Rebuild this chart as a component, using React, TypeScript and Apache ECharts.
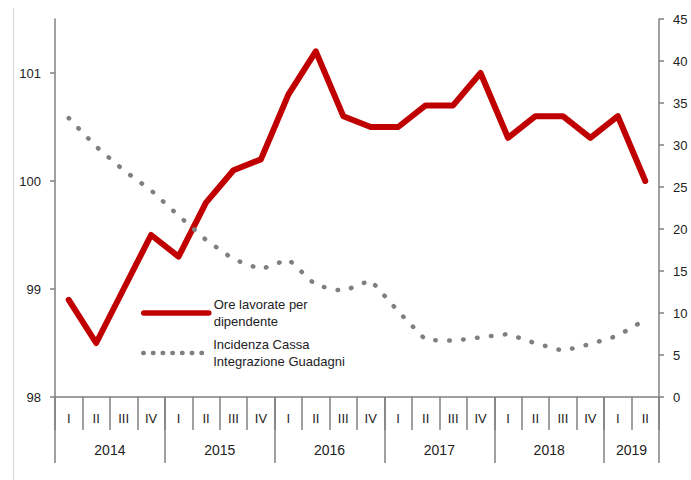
import { useEffect, useRef } from "react";
import * as echarts from "echarts";

const quarters = ["I", "II", "III", "IV", "I", "II", "III", "IV", "I", "II", "III", "IV", "I", "II", "III", "IV", "I", "II", "III", "IV", "I", "II"];
const years = ["2014", "2015", "2016", "2017", "2018", "2019"];
const quartersPerYear = [4, 4, 4, 4, 4, 2];
const oreLavorate = [98.9, 98.5, 99.0, 99.5, 99.3, 99.8, 100.1, 100.2, 100.8, 101.2, 100.6, 100.5, 100.5, 100.7, 100.7, 101.0, 100.4, 100.6, 100.6, 100.4, 100.6, 100.0];
const cassaIntegrazione = [33.2, 29.8, 27.0, 24.6, 21.6, 18.7, 16.4, 15.2, 16.4, 13.3, 12.6, 13.9, 10.2, 6.8, 6.7, 7.1, 7.5, 6.4, 5.5, 6.3, 7.3, 9.2];
const leftTicks = [98, 99, 100, 101];
const seriesNames = ["Ore lavorate per dipendente", "Incidenza Cassa Integrazione Guadagni"];
const legendLabels = ["Ore lavorate per\ndipendente", "Incidenza Cassa\nIntegrazione Guadagni"];

const FONT = "'Liberation Sans', Arial, sans-serif";
const AXIS = "#808080";
const TXT = "#222222";

export default function App() {
  const ref = useRef<HTMLDivElement>(null);
  useEffect(() => {
    if (!ref.current) return;
    const chart = echarts.init(ref.current, undefined, { renderer: "svg" });

    const boundaries: number[] = [0];
    quartersPerYear.forEach((n) => boundaries.push(boundaries[boundaries.length - 1] + n));
    const total = boundaries[boundaries.length - 1];
    const yearSlots: string[] = Array(total + 1).fill("");
    years.forEach((y, i) => {
      yearSlots[(boundaries[i] + boundaries[i + 1]) / 2] = y;
    });

    const legendFormatter = (name: string) => legendLabels[seriesNames.indexOf(name)];
    const legendText = {
      fontFamily: FONT,
      fontSize: 13,
      color: TXT,
      lineHeight: 17,
      padding: [17, 0, 0, 0],
    };
    const hiddenSymbol = { color: "rgba(0,0,0,0)", borderWidth: 0, opacity: 0 };

    chart.setOption({
      animation: false,
      backgroundColor: "#ffffff",
      textStyle: { fontFamily: FONT },
      grid: { left: 55, right: 32, top: 19, bottom: 83, containLabel: false },
      legend: [
        {
          data: [seriesNames[0]],
          left: 141,
          top: 287.5,
          padding: 0,
          itemWidth: 65,
          itemHeight: 14,
          selectedMode: false,
          formatter: legendFormatter,
          textStyle: legendText,
          itemStyle: hiddenSymbol,
          lineStyle: { width: 5.5, cap: "round" },
        },
        {
          data: [seriesNames[1]],
          left: 141,
          top: 327.5,
          padding: 0,
          itemWidth: 65,
          itemHeight: 14,
          selectedMode: false,
          formatter: legendFormatter,
          textStyle: legendText,
          itemStyle: hiddenSymbol,
          lineStyle: { width: 4.5, type: [0.5, 9.2], cap: "round" },
        },
      ],
      xAxis: [
        {
          type: "category",
          position: "bottom",
          data: quarters,
          boundaryGap: true,
          axisLine: { lineStyle: { color: AXIS, width: 1.5 } },
          axisTick: { show: true, interval: 0, length: 33, lineStyle: { color: AXIS, width: 1.5 } },
          axisLabel: { interval: 0, margin: 15, fontSize: 13, color: TXT, fontFamily: FONT },
          splitLine: { show: false },
        },
        {
          type: "category",
          position: "bottom",
          data: yearSlots,
          boundaryGap: false,
          axisLine: { show: false },
          axisTick: {
            show: true,
            interval: (index: number) => boundaries.includes(index),
            length: 66,
            lineStyle: { color: AXIS, width: 1.5 },
          },
          axisLabel: { interval: 0, margin: 46, fontSize: 14, color: TXT, fontFamily: FONT },
          splitLine: { show: false },
        },
      ],
      yAxis: [
        {
          type: "value",
          position: "left",
          min: 98,
          max: 101.5,
          interval: 1,
          axisLine: { show: true, lineStyle: { color: AXIS, width: 1.5 } },
          axisTick: { show: true, length: 5, customValues: leftTicks, lineStyle: { color: AXIS, width: 1.5 } },
          axisLabel: { margin: 14, fontSize: 13, color: TXT, fontFamily: FONT, customValues: leftTicks },
          splitLine: { show: false },
        },
        {
          type: "value",
          position: "right",
          min: 0,
          max: 45,
          interval: 5,
          axisLine: { show: true, lineStyle: { color: AXIS, width: 1.5 } },
          axisTick: { show: true, length: 5, lineStyle: { color: AXIS, width: 1.5 } },
          axisLabel: { margin: 14, fontSize: 13, color: TXT, fontFamily: FONT },
          splitLine: { show: false },
        },
      ],
      graphic: [
        {
          type: "line",
          shape: { x1: 13.5, y1: 8, x2: 13.5, y2: 480 },
          style: { stroke: "#d6d6d6", lineWidth: 1 },
          silent: true,
        },
      ],
      series: [
        {
          name: seriesNames[0],
          type: "line",
          xAxisIndex: 0,
          yAxisIndex: 0,
          data: oreLavorate,
          symbol: "none",
          lineStyle: { color: "#C00000", width: 6, cap: "round", join: "round" },
          itemStyle: { color: "#C00000" },
          z: 2,
        },
        {
          name: seriesNames[1],
          type: "line",
          xAxisIndex: 0,
          yAxisIndex: 1,
          data: cassaIntegrazione,
          symbol: "none",
          lineStyle: { color: "#7f7f7f", width: 4.5, type: [0.5, 13.5], cap: "round", join: "round" },
          itemStyle: { color: "#7f7f7f" },
          z: 3,
        },
      ],
    });
    return () => chart.dispose();
  }, []);
  return (
    <div
      ref={ref}
      style={{ position: "fixed", left: 0, top: 0, width: 691, height: 480 }}
    />
  );
}
